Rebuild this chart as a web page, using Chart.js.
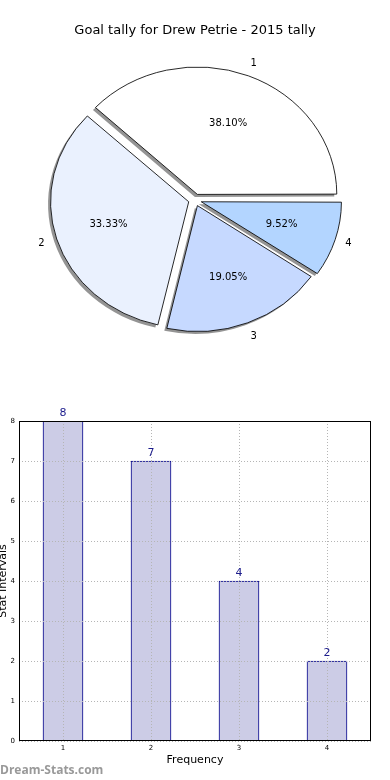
<!DOCTYPE html>
<html>
<head>
<meta charset="utf-8">
<script src="https://cdn.jsdelivr.net/npm/chart.js@4.4.0/dist/chart.umd.min.js"></script>
<style>
  html, body { margin: 0; padding: 0; background: #fff; }
  #wrap { position: relative; width: 390px; height: 780px; overflow: hidden; }
  #pieChart { position: absolute; left: 0; top: 0; }
  #barChart { position: absolute; left: 0; top: 390px; }
</style>
</head>
<body>
<div id="wrap">
  <canvas id="pieChart" width="390" height="390"></canvas>
  <canvas id="barChart" width="390" height="390"></canvas>
</div>
<script>
// data
const categories = ["1", "2", "3", "4"];
const goals = [8, 7, 4, 2];
const sliceColors = ["#ffffff", "#eaf1fe", "#c6d9ff", "#b3d5ff"];
const yTickValues = [0, 1, 2, 3, 4, 5, 6, 7, 8];
const chartTitle = "Goal tally for Drew Petrie - 2015 tally";

const FONT = "'DejaVu Sans', sans-serif";
Chart.defaults.font.family = FONT;
Chart.defaults.color = "#000";

// matplotlib goes counter-clockwise from 3 o'clock, chart.js clockwise -> reverse order
const pieOrder = [3, 2, 1, 0];
const total = goals.reduce((a, b) => a + b, 0);
const stretchX = 1.094; // pie is a bit wider than tall
const explode = 6;
const pieRadius = 128;

function stretch(ctx, cx) {
  ctx.translate(cx, 0);
  ctx.scale(stretchX, 1);
  ctx.translate(-cx, 0);
}

const pieExtras = {
  id: "pieExtras",
  beforeDatasetsDraw(chart) {
    const arcs = chart.getDatasetMeta(0).data;
    const ctx = chart.ctx;
    // shadows first, under every wedge (fill only)
    ctx.save();
    ctx.translate(-2.5, 2.5);
    stretch(ctx, arcs[0].x);
    arcs.forEach(arc => {
      const sh = new Chart.ArcElement();
      Object.assign(sh, {
        x: arc.x, y: arc.y, startAngle: arc.startAngle, endAngle: arc.endAngle,
        circumference: arc.circumference, innerRadius: 0, outerRadius: arc.outerRadius,
        options: Object.assign({}, arc.options, { backgroundColor: "rgba(60,60,60,0.55)", borderWidth: 0 })
      });
      sh.draw(ctx);
    });
    ctx.restore();
    ctx.save();
    stretch(ctx, arcs[0].x);
  },
  afterDatasetsDraw(chart) {
    const ctx = chart.ctx;
    ctx.restore();
    const arcs = chart.getDatasetMeta(0).data;
    ctx.save();
    ctx.fillStyle = "#000";
    ctx.textAlign = "center";
    ctx.textBaseline = "middle";
    ctx.font = "10px " + FONT;
    arcs.forEach((arc, k) => {
      const i = pieOrder[k];
      const mid = (arc.startAngle + arc.endAngle) / 2;
      const cx = arc.x + Math.cos(mid) * explode * stretchX;
      const cy = arc.y + Math.sin(mid) * explode;
      const pct = (goals[i] / total * 100).toFixed(2) + "%";
      ctx.fillText(pct, cx + Math.cos(mid) * pieRadius * 0.6 * stretchX, cy + Math.sin(mid) * pieRadius * 0.6);
      ctx.fillText(categories[i], cx + Math.cos(mid) * pieRadius * 1.1 * stretchX, cy + Math.sin(mid) * pieRadius * 1.1);
    });
    ctx.restore();
  }
};

new Chart(document.getElementById("pieChart"), {
  type: "pie",
  data: {
    labels: pieOrder.map(i => categories[i]),
    datasets: [{
      data: pieOrder.map(i => goals[i]),
      backgroundColor: pieOrder.map(i => sliceColors[i]),
      borderColor: "#000",
      borderWidth: 0.8,
      offset: explode * 4
    }]
  },
  options: {
    responsive: false,
    animation: false,
    rotation: 90,
    radius: pieRadius - 2.5, // arc adds a little for the offset
    layout: { padding: { top: 0, bottom: 28.6 } },
    plugins: {
      legend: { display: false },
      tooltip: { enabled: false },
      title: {
        display: true,
        text: chartTitle,
        color: "#000",
        font: { size: 13, weight: "normal" },
        padding: { top: 23, bottom: 0 }
      }
    }
  },
  plugins: [pieExtras]
});

// bar chart
const barExtras = {
  id: "barExtras",
  afterDraw(chart) {
    const ctx = chart.ctx;
    const ca = chart.chartArea;
    ctx.save();
    // frame
    ctx.strokeStyle = "#000";
    ctx.lineWidth = 1;
    ctx.strokeRect(Math.round(ca.left) + 0.5, Math.round(ca.top) + 0.5,
      Math.round(ca.right - ca.left) - 1, Math.round(ca.bottom - ca.top) - 1);
    // value labels
    ctx.fillStyle = "#1c1c8c";
    ctx.font = "11px " + FONT;
    ctx.textAlign = "center";
    ctx.textBaseline = "alphabetic";
    chart.getDatasetMeta(0).data.forEach((bar, i) => {
      ctx.fillText(String(goals[i]), bar.x, bar.y - 5);
    });
    // watermark
    ctx.fillStyle = "#999999";
    ctx.font = "bold 12px 'Open Sans', sans-serif";
    ctx.textAlign = "left";
    ctx.fillText("Dream-Stats.com", 0, 384);
    ctx.restore();
  }
};

new Chart(document.getElementById("barChart"), {
  type: "bar",
  data: {
    labels: categories,
    datasets: [{
      data: goals,
      backgroundColor: "#ccccE6",
      borderColor: "#00008b",
      borderWidth: 1,
      barThickness: 40
    }]
  },
  options: {
    responsive: false,
    animation: false,
    layout: { padding: { top: 31, right: 19, left: 0, bottom: 0 } },
    plugins: {
      legend: { display: false },
      tooltip: { enabled: false }
    },
    scales: {
      x: {
        offset: true,
        grid: { offset: false, color: "#b5b5b5", drawTicks: false, z: 1 },
        border: { display: false, dash: [1, 2] },
        ticks: { font: { size: 7 }, color: "#000", padding: 3 },
        title: {
          display: true,
          text: "Frequency",
          color: "#000",
          font: { size: 11 },
          padding: { top: 0, bottom: 13.4 }
        },
        afterFit(s) { s.height = 39; }
      },
      y: {
        min: yTickValues[0],
        max: yTickValues[yTickValues.length - 1],
        afterBuildTicks(s) { s.ticks = yTickValues.map(v => ({ value: v })); },
        grid: { color: "#b5b5b5", drawTicks: false, z: 1 },
        border: { display: false, dash: [1, 2] },
        ticks: { font: { size: 7 }, color: "#000", padding: 4 },
        title: {
          display: true,
          text: "Stat Intervals",
          color: "#000",
          font: { size: 11 },
          padding: { top: -3, bottom: 0 }
        },
        afterFit(s) { s.width = 19; }
      }
    }
  },
  plugins: [barExtras]
});
</script>
</body>
</html>
